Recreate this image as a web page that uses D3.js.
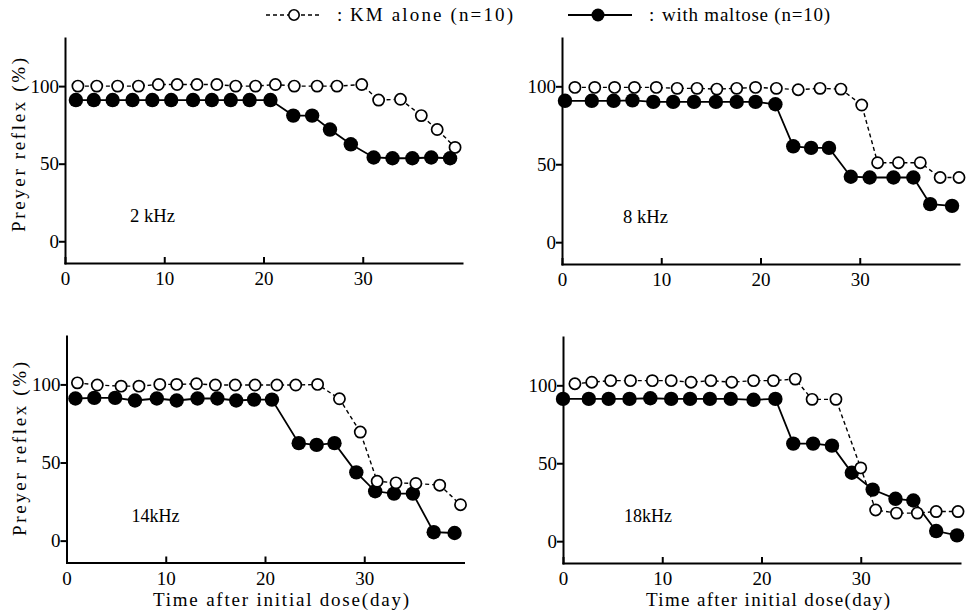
<!DOCTYPE html>
<html>
<head>
<meta charset="utf-8">
<script src="https://cdn.jsdelivr.net/npm/d3@7"></script>
<style>
    body { margin: 0; background: #fff; }
    svg text { font-family: "Liberation Serif", "DejaVu Serif", serif; fill: #000; }
</style>
</head>
<body>
<div class="container"></div>
<script>
// panel labels and ticks
const freqLabels = ["2 kHz", "8 kHz", "14kHz", "18kHz"];
const xTicks = [0, 10, 20, 30];
const yTicks = [0, 50, 100];
const seriesNames = ["KM alone (n=10)", "with maltose (n=10)"];

// 2 kHz (day, % for KM alone / with maltose)
const dayKm2 = [1.3, 3.2, 5.3, 7.4, 9.4, 11.3, 13.3, 15.3, 17.2, 19.2, 21.2, 23.1, 25.4, 27.4, 29.9, 31.6, 33.8, 35.9, 37.5, 39.3];
const km2 = [100, 100, 100, 100, 101, 101, 101, 101, 100, 100, 101, 100, 100, 100, 101, 91, 91.5, 81, 72, 60.5];
const dayMal2 = [1.1, 2.9, 4.8, 6.8, 8.8, 10.7, 12.9, 14.8, 16.7, 18.6, 20.7, 23.0, 24.9, 26.7, 28.8, 31.1, 33.0, 35.0, 36.9, 38.8];
const mal2 = [91, 91, 91, 91, 91, 91, 91, 91, 91, 91, 91, 81, 81, 72, 62.5, 54, 53.5, 53.5, 54, 53.5];

// 8 kHz
const dayKm8 = [1.3, 3.3, 5.3, 7.3, 9.5, 11.6, 13.6, 15.6, 17.6, 19.5, 21.6, 23.8, 26.0, 28.1, 30.2, 31.8, 33.9, 36.1, 38.1, 40.0];
const km8 = [99.3, 99.3, 99.3, 99.3, 99.3, 98.7, 98.7, 98.2, 98.7, 99.3, 98.7, 97.8, 98.7, 98.2, 88, 51, 51, 51, 41.5, 41.5];
const dayMal8 = [0.3, 3.0, 5.2, 7.1, 9.2, 11.2, 13.3, 15.5, 17.6, 19.5, 21.5, 23.3, 25.1, 26.9, 29.1, 31.0, 33.4, 35.4, 37.1, 39.3];
const mal8 = [90.7, 90.7, 90.7, 91, 90, 90, 90, 90, 90, 90, 88.5, 61.5, 60.5, 60.5, 42, 41.5, 41.5, 41.5, 24.4, 23.3];

// 14 kHz
const dayKm14 = [1.1, 3.1, 5.5, 7.3, 9.4, 11.1, 13.1, 15.0, 17.0, 19.0, 21.2, 23.1, 25.3, 27.5, 29.6, 31.3, 33.2, 35.2, 37.6, 39.7];
const km14 = [101, 99.6, 98.9, 98.9, 100, 100, 100.4, 99.6, 99.6, 99.6, 99.6, 99.6, 100, 90.8, 69.5, 38, 37, 36.6, 35.5, 23];
const dayMal14 = [0.9, 2.8, 4.9, 6.9, 9.1, 11.1, 13.2, 15.2, 17.1, 18.9, 20.7, 23.4, 25.2, 27.0, 29.2, 31.1, 33.0, 34.9, 37.0, 39.1];
const mal14 = [91, 91.4, 91.4, 89.7, 91, 89.7, 91, 91, 89.7, 90.3, 90.3, 62.4, 61.3, 62.4, 43.7, 31.6, 30.1, 30.1, 5.4, 4.9];

// 18 kHz
const dayKm18 = [1.2, 2.9, 4.8, 6.8, 9.0, 10.9, 12.9, 14.9, 17.0, 19.2, 21.2, 23.4, 25.1, 27.5, 30.0, 31.5, 33.6, 35.7, 37.6, 39.8];
const km18 = [101, 102, 103, 103, 103, 103, 102, 103, 102, 103, 103, 104, 91, 91, 47, 20, 18, 18, 19, 19];
const dayMal18 = [0, 2.6, 4.6, 6.7, 8.8, 10.9, 12.8, 14.8, 16.9, 19.2, 21.4, 23.2, 25.2, 27.1, 29.1, 31.2, 33.5, 35.3, 37.6, 39.7];
const mal18 = [91.3, 91.3, 91.3, 91.3, 91.7, 91.3, 91.3, 91.3, 91.3, 90.7, 91.3, 62.6, 62.6, 61.3, 43.9, 33.1, 27.2, 26.1, 6.5, 3.7];

const kmDays = [dayKm2, dayKm8, dayKm14, dayKm18];
const kmVals = [km2, km8, km14, km18];
const malDays = [dayMal2, dayMal8, dayMal14, dayMal18];
const malVals = [mal2, mal8, mal14, mal18];

//Set up chart
const svgWidth = 970, svgHeight = 614;

// where each panel sits (left of y axis, top and bottom of axes)
const panelBox = [
    {x0: 65, top: 38, bottom: 263},
    {x0: 562, top: 38, bottom: 264},
    {x0: 66.5, top: 336, bottom: 562.5},
    {x0: 563, top: 337, bottom: 563}
];
const plotWidth = 397;

const svg = d3.select(".container")
    .append("svg")
    .attr("width", svgWidth)
    .attr("height", svgHeight);

function drawPanel(i) {
    const box = panelBox[i];

    const x = d3.scaleLinear()
        .domain([0, 40])
        .range([box.x0, box.x0 + plotWidth]);

    const y = d3.scaleLinear()
        .domain([-14, 131])
        .range([box.bottom, box.top]);

    const g = svg.append("g");

    //axes, x ticks point inward, y ticks outward
    const bottomAxis = d3.axisBottom(x)
        .tickValues(xTicks)
        .tickSizeInner(-5)
        .tickSizeOuter(0)
        .tickPadding(9);
    const leftAxis = d3.axisLeft(y)
        .tickValues(yTicks)
        .tickSizeInner(5)
        .tickSizeOuter(0)
        .tickPadding(1);

    const xg = g.append("g")
        .attr("transform", `translate(0, ${box.bottom})`)
        .call(bottomAxis);
    const yg = g.append("g")
        .attr("transform", `translate(${box.x0}, 0)`)
        .call(leftAxis);

    [xg, yg].forEach(a => {
        a.attr("font-size", 19).attr("font-family", null);
        a.selectAll("path, line")
            .attr("stroke", "#000")
            .attr("stroke-width", 2)
            .attr("stroke-linecap", "square");
    });

    const line = d3.line()
        .x(d => x(d[0]))
        .y(d => y(d[1]));

    const km = d3.zip(kmDays[i], kmVals[i]);
    const mal = d3.zip(malDays[i], malVals[i]);

    g.append("path")
        .datum(mal)
        .attr("d", line)
        .attr("fill", "none")
        .attr("stroke", "#000")
        .attr("stroke-width", 1.8);

    g.append("path")
        .datum(km)
        .attr("d", line)
        .attr("fill", "none")
        .attr("stroke", "#000")
        .attr("stroke-width", 1.4)
        .attr("stroke-dasharray", "4,3");

    g.selectAll(".mal")
        .data(mal)
        .enter()
        .append("circle")
        .attr("cx", d => x(d[0]))
        .attr("cy", d => y(d[1]))
        .attr("r", 7.2)
        .attr("fill", "#000");

    g.selectAll(".km")
        .data(km)
        .enter()
        .append("circle")
        .attr("cx", d => x(d[0]))
        .attr("cy", d => y(d[1]))
        .attr("r", 5.6)
        .attr("fill", "#fff")
        .attr("stroke", "#000")
        .attr("stroke-width", 1.7);

    // frequency label
    g.append("text")
        .attr("x", box.x0 + (i % 2 ? 61 : 65))
        .attr("y", y(0) - 19)
        .attr("font-size", 18)
        .attr("textLength", i < 2 ? 45 : 48)
        .attr("lengthAdjust", "spacingAndGlyphs")
        .text(freqLabels[i]);

    // y title on left panels
    if (i % 2 === 0) {
        const cy = i < 2 ? 145 : 449;
        g.append("text")
            .attr("transform", `translate(${i < 2 ? 25 : 26}, ${cy}) rotate(-90)`)
            .attr("text-anchor", "middle")
            .attr("font-size", 19)
            .attr("textLength", 174)
            .attr("lengthAdjust", "spacing")
            .text("Preyer reflex (%)");
    }

    // x title on bottom panels
    if (i >= 2) {
        g.append("text")
            .attr("x", i === 2 ? 153 : 646)
            .attr("y", 606)
            .attr("font-size", 19)
            .attr("textLength", i === 2 ? 256 : 244)
            .attr("lengthAdjust", "spacing")
            .text("Time after initial dose(day)");
    }
}

d3.range(4).forEach(drawPanel);

//legend
const legend = svg.append("g");

legend.append("line")
    .attr("x1", 266).attr("x2", 322)
    .attr("y1", 15).attr("y2", 15)
    .attr("stroke", "#000")
    .attr("stroke-width", 1.4)
    .attr("stroke-dasharray", "4,3");
legend.append("circle")
    .attr("cx", 294).attr("cy", 15).attr("r", 5.2)
    .attr("fill", "#fff")
    .attr("stroke", "#000")
    .attr("stroke-width", 1.6);
legend.append("text")
    .attr("x", 337).attr("y", 21)
    .attr("font-size", 19)
    .text(":");
legend.append("text")
    .attr("x", 350).attr("y", 21)
    .attr("font-size", 19)
    .attr("textLength", 163)
    .attr("lengthAdjust", "spacing")
    .text(seriesNames[0]);

legend.append("line")
    .attr("x1", 568).attr("x2", 632)
    .attr("y1", 15).attr("y2", 15)
    .attr("stroke", "#000")
    .attr("stroke-width", 1.8);
legend.append("circle")
    .attr("cx", 598).attr("cy", 15).attr("r", 6.5)
    .attr("fill", "#000");
legend.append("text")
    .attr("x", 649).attr("y", 21)
    .attr("font-size", 19)
    .text(":");
legend.append("text")
    .attr("x", 662).attr("y", 21)
    .attr("font-size", 19)
    .attr("textLength", 168)
    .attr("lengthAdjust", "spacing")
    .text(seriesNames[1]);
</script>
</body>
</html>
